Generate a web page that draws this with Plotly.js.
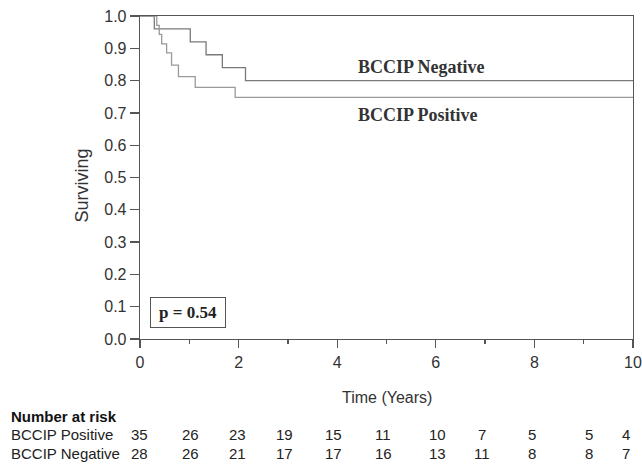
<!DOCTYPE html>
<html>
<head>
<meta charset="utf-8">
<script src="https://cdn.plot.ly/plotly-3.0.1.min.js"></script>
<style>html,body{margin:0;padding:0;background:#fff;}#chart{width:642px;height:467px;}</style>
</head>
<body>
<div id="chart"></div>
<script>
// ---- data ----
var negTime = [0, 0.29, 1.02, 1.34, 1.67, 2.14, 10];
var negSurv = [1.0, 0.96, 0.92, 0.88, 0.84, 0.80, 0.80];
var posTime = [0, 0.34, 0.39, 0.44, 0.54, 0.64, 0.78, 1.12, 1.93, 10];
var posSurv = [1.0, 0.971, 0.943, 0.914, 0.886, 0.848, 0.812, 0.779, 0.748, 0.748];
var riskPositive = [35, 26, 23, 19, 15, 11, 10, 7, 5, 5, 4];
var riskNegative = [28, 26, 21, 17, 17, 16, 13, 11, 8, 8, 7];
var groupNames = ["BCCIP Positive", "BCCIP Negative"];
var pText = "p = 0.54";

// ---- layout constants ----
var L = 140, R = 9, T = 16, B = 128, W = 642, H = 467;
var pw = W - L - R, ph = H - T - B;
function px2paperX(px) { return (px - L) / pw; }
function py2paperY(py) { return (H - B - py) / ph; }
var colPx = [139, 190, 237, 284, 333, 383, 437, 482, 532, 589, 626];
var rowPy = [435, 453];

var traces = [
  {x: negTime, y: negSurv, mode: 'lines', line: {shape: 'hv', color: '#7a7a7a', width: 1.3}, name: groupNames[1], showlegend: false, hoverinfo: 'skip'},
  {x: posTime, y: posSurv, mode: 'lines', line: {shape: 'hv', color: '#9a9a9a', width: 1.3}, name: groupNames[0], showlegend: false, hoverinfo: 'skip'}
];

var sans = 'Liberation Sans, Arial, sans-serif';
var serif = 'Liberation Serif, Times New Roman, serif';

var ann = [
  {text: '<b>' + groupNames[1] + '</b>', x: 4.38, y: 0.843, xref: 'x', yref: 'y', xanchor: 'left', yanchor: 'middle', showarrow: false, font: {family: serif, size: 18, color: '#333'}},
  {text: '<b>' + groupNames[0] + '</b>', x: 4.38, y: 0.693, xref: 'x', yref: 'y', xanchor: 'left', yanchor: 'middle', showarrow: false, font: {family: serif, size: 18, color: '#333'}},
  {text: '<b>' + pText + '</b>', x: 0.97, y: 0.082, xref: 'x', yref: 'y', xanchor: 'center', yanchor: 'middle', showarrow: false, font: {family: serif, size: 17, color: '#222'}, bordercolor: '#555', borderwidth: 1, borderpad: 1, width: 72, height: 27},
  {text: 'Time (Years)', x: 0.5, y: py2paperY(397), xref: 'paper', yref: 'paper', xanchor: 'center', yanchor: 'middle', showarrow: false, font: {family: sans, size: 16, color: '#333'}},
  {text: 'Surviving', x: px2paperX(81.5), y: py2paperY(186), xref: 'paper', yref: 'paper', xanchor: 'center', yanchor: 'middle', textangle: -90, showarrow: false, font: {family: sans, size: 18, color: '#333'}},
  {text: '<b>Number at risk</b>', x: px2paperX(9), y: py2paperY(416), xref: 'paper', yref: 'paper', xanchor: 'left', yanchor: 'middle', showarrow: false, font: {family: sans, size: 15, color: '#111'}},
  {text: groupNames[0], x: px2paperX(9), y: py2paperY(rowPy[0]), xref: 'paper', yref: 'paper', xanchor: 'left', yanchor: 'middle', showarrow: false, font: {family: sans, size: 15, color: '#222'}},
  {text: groupNames[1], x: px2paperX(9), y: py2paperY(rowPy[1]), xref: 'paper', yref: 'paper', xanchor: 'left', yanchor: 'middle', showarrow: false, font: {family: sans, size: 15, color: '#222'}}
];
for (var i = 0; i < riskPositive.length; i++) {
  ann.push({text: String(riskPositive[i]), x: px2paperX(colPx[i]), y: py2paperY(rowPy[0]), xref: 'paper', yref: 'paper', xanchor: 'center', yanchor: 'middle', showarrow: false, font: {family: sans, size: 15, color: '#222'}});
  ann.push({text: String(riskNegative[i]), x: px2paperX(colPx[i]), y: py2paperY(rowPy[1]), xref: 'paper', yref: 'paper', xanchor: 'center', yanchor: 'middle', showarrow: false, font: {family: sans, size: 15, color: '#222'}});
}

var layout = {
  width: W, height: H,
  margin: {l: L, r: R, t: T, b: B, pad: 0},
  paper_bgcolor: '#fff', plot_bgcolor: '#fff',
  showlegend: false,
  xaxis: {
    range: [0, 10], dtick: 2, tick0: 0, showgrid: false, zeroline: false,
    showline: true, mirror: true, linecolor: '#555', linewidth: 1.3,
    ticks: 'outside', ticklen: 8, tickcolor: '#555', tickwidth: 1.3,
    minor: {dtick: 1, ticks: 'outside', ticklen: 4, tickcolor: '#555', tickwidth: 1.3},
    tickfont: {family: sans, size: 16, color: '#333'}, fixedrange: true
  },
  yaxis: {
    range: [0, 1.0], dtick: 0.1, tick0: 0, tickformat: '.1f', showgrid: false, zeroline: false,
    showline: true, mirror: true, linecolor: '#555', linewidth: 1.3,
    ticks: 'outside', ticklen: 9, tickcolor: '#555', tickwidth: 1.3,
    tickfont: {family: sans, size: 16, color: '#333'}, fixedrange: true
  },
  annotations: ann
};

Plotly.newPlot('chart', traces, layout, {displayModeBar: false, staticPlot: true});
</script>
</body>
</html>
